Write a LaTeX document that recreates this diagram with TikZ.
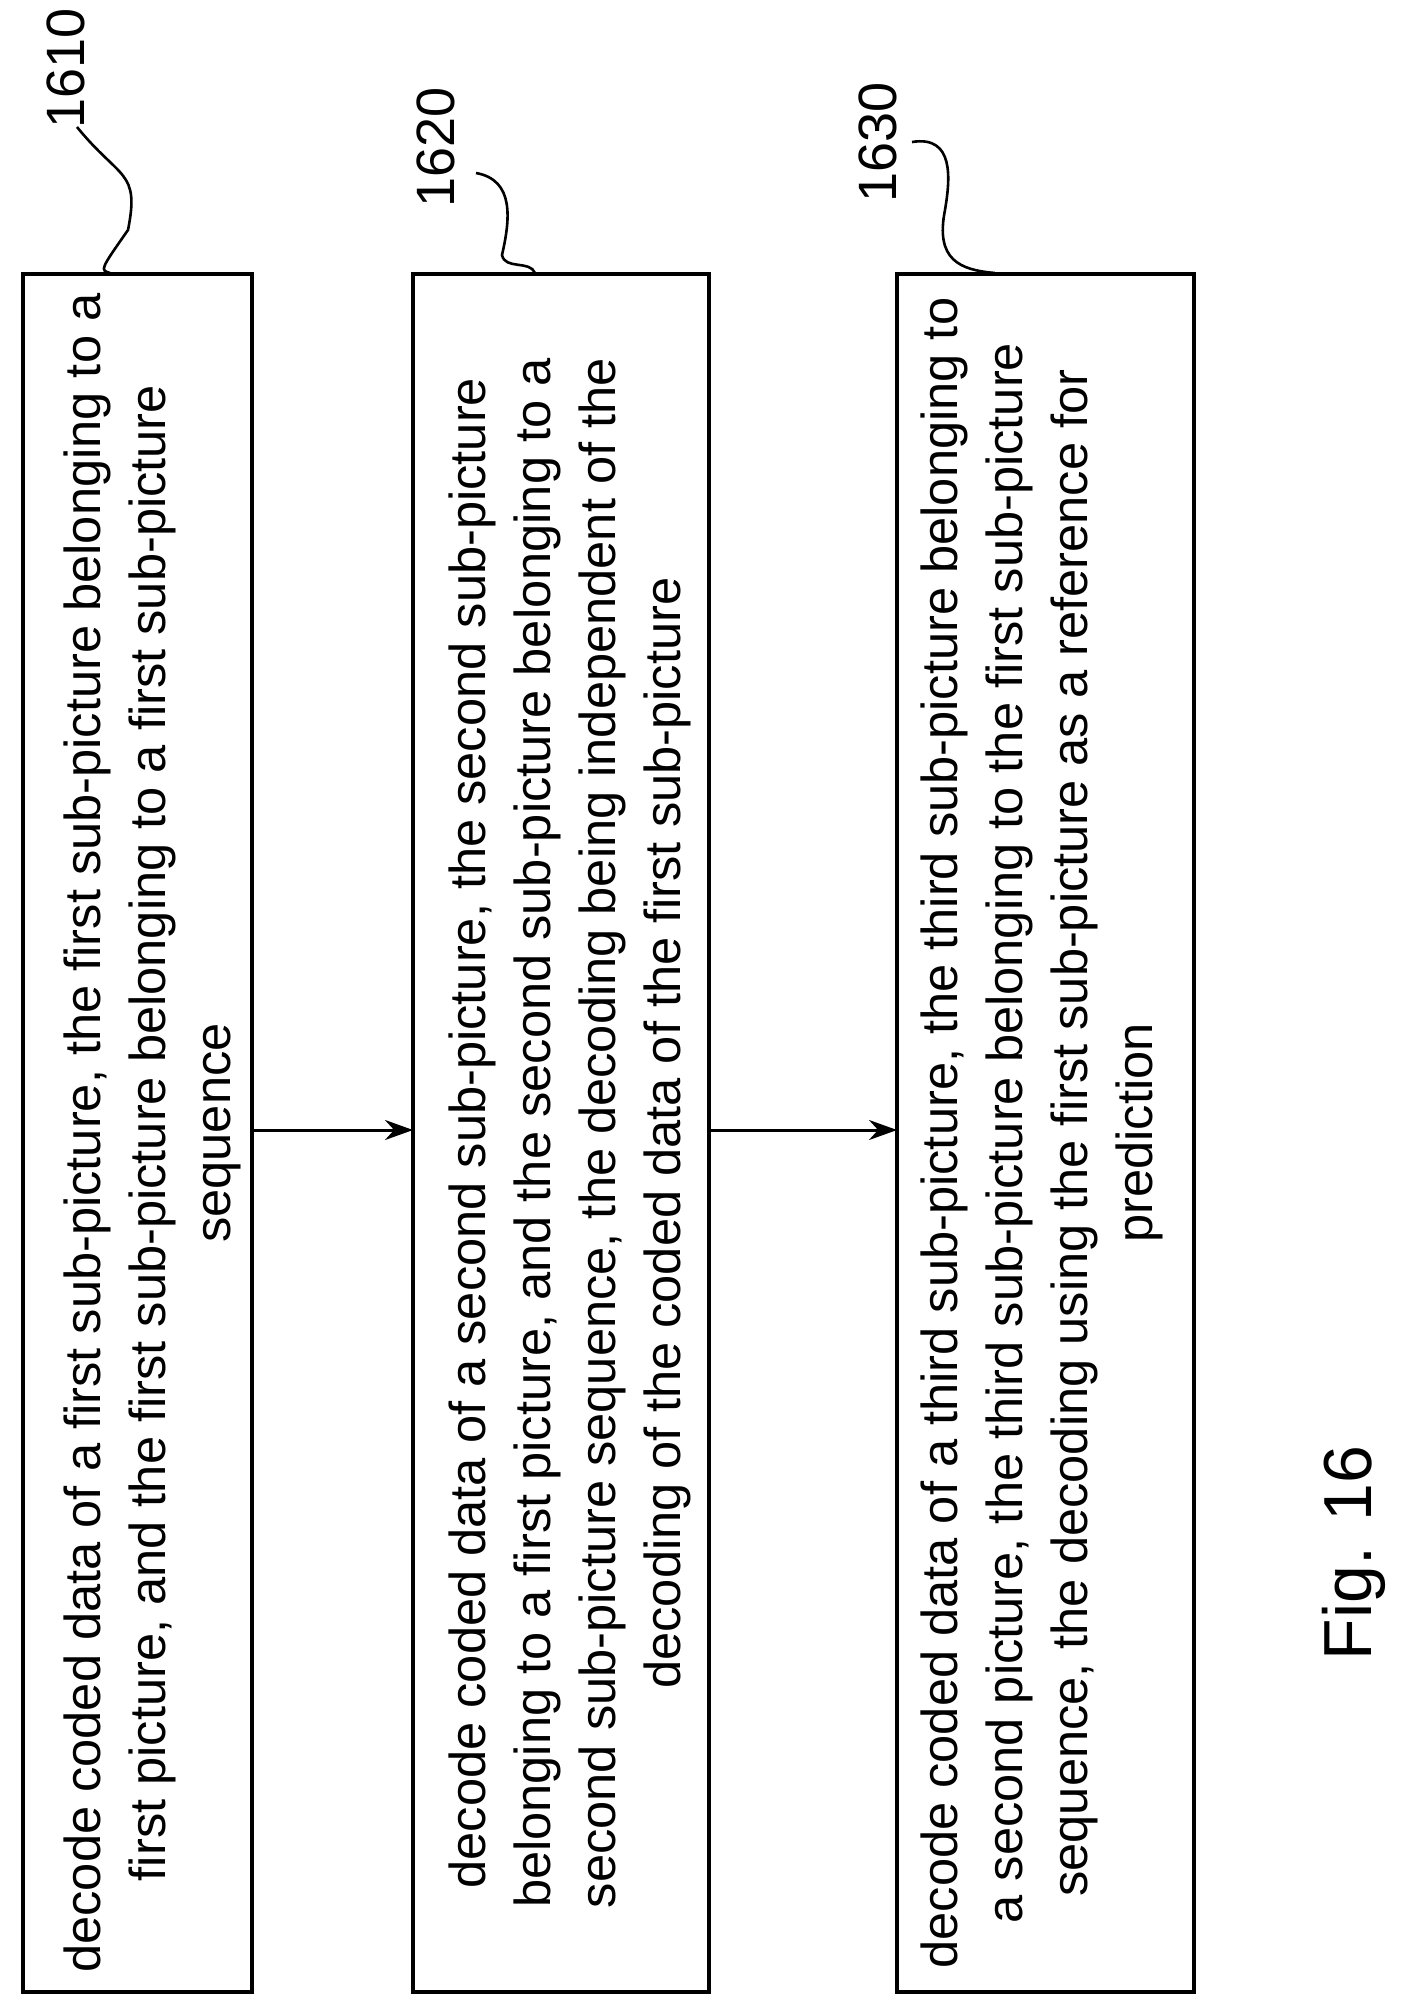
\documentclass[tikz,border=0pt]{standalone}
\usepackage{fontspec}
\setmainfont{Liberation Sans}
\usetikzlibrary{arrows.meta}
\begin{document}
\begin{tikzpicture}[x=0.5pt,y=-0.5pt,
  box/.style={draw,line width=1.6pt},
  txt/.style={rotate=90,align=center,font=\fontsize{25.3}{32.5}\selectfont},
  lbl/.style={rotate=90,font=\fontsize{27}{30}\selectfont},
  lead/.style={line width=1.3pt},
  arr/.style={line width=1.5pt,-{Stealth[length=14pt,width=10pt]}}]
\useasboundingbox (0,0) rectangle (1412,2009);
\draw[box] (23,274) rectangle (252,1992);
\draw[box] (413,274) rectangle (709,1992);
\draw[box] (897,274) rectangle (1194,1992);
\node[txt] (t1) at (152,1133) {decode coded data of a first sub-picture, the first sub-picture belonging to a\\first picture, and the first sub-picture belonging to a first sub-picture\\sequence};
\node[txt] (t2) at (570,1133) {decode coded data of a second sub-picture, the second sub-picture\\belonging to a first picture, and the second sub-picture belonging to a\\second sub-picture sequence, the decoding being independent of the\\decoding of the coded data of the first sub-picture};
\node[txt] (t3) at (1042,1133) {decode coded data of a third sub-picture, the third sub-picture belonging to\\a second picture, the third sub-picture belonging to the first sub-picture\\sequence, the decoding using the first sub-picture as a reference for\\prediction};
\coordinate (b1r) at (252,1130); \coordinate (b2l) at (413,1130);
\coordinate (b2r) at (709,1130); \coordinate (b3l) at (897,1130);
\draw[arr] (b1r) -- (b2l);
\draw[arr] (b2r) -- (b3l);
\node[lbl] (l1) at (66,68) {1610};
\node[lbl] (l2) at (436,147) {1620};
\node[lbl] (l3) at (878,142) {1630};
\draw[lead] (77,127) .. controls (120,180) and (140,170) .. (128,230) .. controls (100,270) and (100,270) .. (110,273);
\draw[lead] (476,173) .. controls (515,180) and (510,220) .. (502,255) .. controls (505,270) and (530,260) .. (535,273);
\draw[lead] (912,142) .. controls (955,135) and (950,180) .. (945,210) .. controls (935,260) and (960,270) .. (995,273);
\node[rotate=90,font=\fontsize{34}{40}\selectfont] (fig) at (1354,1553) {Fig. 16};
\end{tikzpicture}
\end{document}
